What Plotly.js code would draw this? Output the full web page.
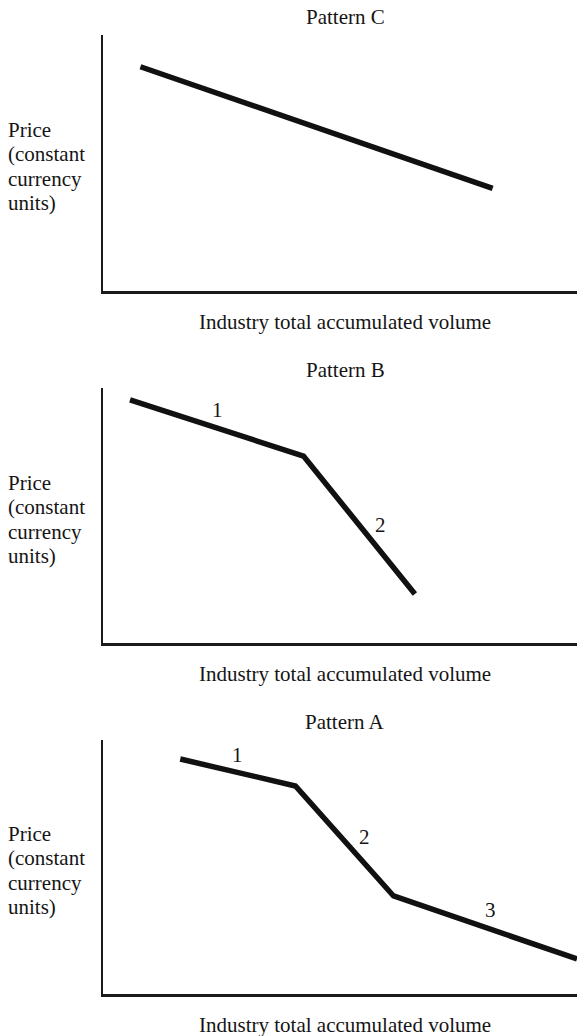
<!DOCTYPE html>
<html>
<head>
<meta charset="utf-8">
<script src="https://cdn.plot.ly/plotly-3.0.1.min.js"></script>
<style>html,body{margin:0;padding:0;background:#fff;}#chart{width:577px;height:1036px;}</style>
</head>
<body>
<div id="chart"></div>
<script>
// ---- data (schematic price paths, axis units 0-100) ----
const panelTitles = ["Pattern C", "Pattern B", "Pattern A"];
const xTitle = "Industry total accumulated volume";
const yTitleLines = ["Price", "(constant", "currency", "units)"];

const patternC_x = [7.9, 82.2];
const patternC_y = [87.6, 40.1];

const patternB_x = [5.7, 42.3, 65.8];
const patternB_y = [95.3, 73.3, 19.2];
const patternB_labels = ["1", "2"];
const patternB_label_x = [24.1, 58.5];
const patternB_label_y = [91.4, 46.3];

const patternA_x = [16.3, 40.6, 61.3, 100];
const patternA_y = [92.5, 81.9, 38.6, 13.8];
const patternA_labels = ["1", "2", "3"];
const patternA_label_x = [28.3, 55.1, 81.7];
const patternA_label_y = [94.1, 61.8, 33.1];

// ---- layout ----
const W = 577, H = 1036;
const FONT = "Liberation Serif, Times New Roman, serif";
const FS = 21;
const TXT = "#151515";
const px = v => v / W;
const py = v => 1 - v / H;

// panel pixel boxes: [top, bottom]
const boxes = [[35, 291], [388, 643], [740, 994]];
const leftPx = 103;

const lineStyle = {color: "#111", width: 5.5};

const traces = [
  {x: patternC_x, y: patternC_y, xaxis: "x", yaxis: "y", mode: "lines", line: lineStyle, hoverinfo: "skip"},
  {x: patternB_x, y: patternB_y, xaxis: "x2", yaxis: "y2", mode: "lines", line: lineStyle, hoverinfo: "skip"},
  {x: patternA_x, y: patternA_y, xaxis: "x3", yaxis: "y3", mode: "lines", line: lineStyle, hoverinfo: "skip"}
];

function axisX(i) {
  return {domain: [px(leftPx), 1], range: [0, 100], showline: true, linewidth: 2.5, linecolor: "#1a1a1a",
    showgrid: false, zeroline: false, showticklabels: false, ticks: "", fixedrange: true,
    anchor: i === 0 ? "y" : "y" + (i + 1)};
}
function axisY(i) {
  const b = boxes[i];
  return {domain: [py(b[1]), py(b[0])], range: [0, 100], showline: true, linewidth: 2.5, linecolor: "#1a1a1a",
    showgrid: false, zeroline: false, showticklabels: false, ticks: "", fixedrange: true,
    anchor: i === 0 ? "x" : "x" + (i + 1)};
}

const annotations = [];
const titleY = [17, 370, 722];
const xTitleY = [322, 674, 1025];
const yTitleFirst = [130, 483, 834];
const yTitleStep = 24.3;

for (let i = 0; i < 3; i++) {
  annotations.push({text: panelTitles[i], xref: "paper", yref: "paper", x: px(345), y: py(titleY[i]),
    xanchor: "center", yanchor: "middle", showarrow: false, font: {family: FONT, size: FS, color: TXT}});
  annotations.push({text: xTitle, xref: "paper", yref: "paper", x: px(345), y: py(xTitleY[i]),
    xanchor: "center", yanchor: "middle", showarrow: false, font: {family: FONT, size: FS, color: TXT}});
  yTitleLines.forEach((t, k) => {
    annotations.push({text: t, xref: "paper", yref: "paper", x: px(6), y: py(yTitleFirst[i] + k * yTitleStep),
      xanchor: "left", yanchor: "middle", showarrow: false, font: {family: FONT, size: FS, color: TXT}});
  });
}
patternB_labels.forEach((t, k) => annotations.push({text: t, xref: "x2", yref: "y2",
  x: patternB_label_x[k], y: patternB_label_y[k], showarrow: false, xanchor: "center", yanchor: "middle",
  font: {family: FONT, size: FS, color: TXT}}));
patternA_labels.forEach((t, k) => annotations.push({text: t, xref: "x3", yref: "y3",
  x: patternA_label_x[k], y: patternA_label_y[k], showarrow: false, xanchor: "center", yanchor: "middle",
  font: {family: FONT, size: FS, color: TXT}}));

const layout = {
  width: W, height: H, margin: {l: 0, r: 0, t: 0, b: 0, pad: 0},
  paper_bgcolor: "#fff", plot_bgcolor: "#fff", showlegend: false,
  xaxis: axisX(0), yaxis: axisY(0),
  xaxis2: axisX(1), yaxis2: axisY(1),
  xaxis3: axisX(2), yaxis3: axisY(2),
  annotations: annotations
};

Plotly.newPlot("chart", traces, layout, {displayModeBar: false, staticPlot: true});
</script>
</body>
</html>
